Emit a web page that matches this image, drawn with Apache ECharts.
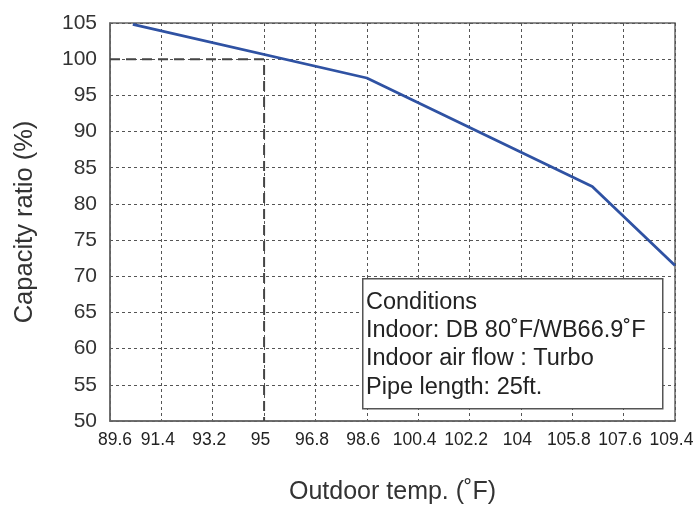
<!DOCTYPE html>
<html><head><meta charset="utf-8">
<script src="https://cdn.jsdelivr.net/npm/echarts@6/dist/echarts.min.js"></script>
<style>html,body{margin:0;padding:0;background:#fff}#c{width:694px;height:505px}</style>
</head><body><div id="c"></div>
<script>
// Outdoor temperatures (°F) and capacity ratio (%)
var tempF = [90.4, 98.6, 106.5, 109.4];
var capacity = [104.8, 97.4, 82.4, 71.5];
// Reference (rated) point guide: 95°F -> 100%
var refTempF = [89.6, 95, 95];
var refCap = [100, 100, 50];
// X tick labels (°F), which are whole °C steps 32..43
var xTickLabels = ['89.6','91.4','93.2','95','96.8','98.6','100.4','102.2','104','105.8','107.6','109.4'];
var yTicks = [50,55,60,65,70,75,80,85,90,95,100,105];
var conditions = ['Conditions','Indoor: DB 80\u02DAF/WB66.9\u02DAF','Indoor air flow : Turbo','Pipe length: 25ft.'];

function toC(f){ return (f - 32) / 1.8; }
var lineData = tempF.map(function(t,i){ return [toC(t), capacity[i]]; });
var refData = refTempF.map(function(t,i){ return [toC(t), refCap[i]]; });

var font = 'Liberation Sans, Arial, sans-serif';
var chart = echarts.init(document.getElementById('c'), null, {renderer:'canvas'});
chart.setOption({
  animation:false,
  grid:{left:110, right:19, top:23, bottom:84, show:true, borderColor:'#666', borderWidth:1.5,
        backgroundColor:'transparent', containLabel:false, outerBoundsMode:'none'},
  xAxis:{
    type:'value', min:32, max:43, interval:1,
    name:'Outdoor temp. (\u02DAF)', nameLocation:'middle', nameGap:59,
    nameTextStyle:{fontFamily:font, fontSize:25, color:'#333'},
    axisLine:{show:true, lineStyle:{color:'#666', width:1.5}},
    axisTick:{show:false},
    axisLabel:{fontFamily:font, fontSize:17.5, color:'#222', margin:10, padding:[0,7,0,0],
      formatter:function(v){
        var i = Math.round(v-32);
        return i === 0 ? '{f|' + xTickLabels[i] + '}' : xTickLabels[i];
      },
      rich:{f:{fontFamily:font, fontSize:17.5, color:'#222', padding:[0,0,0,17]}}
    },
    splitLine:{show:true, lineStyle:{color:'#555', width:1, type:[3,3]}}
  },
  yAxis:{
    type:'value', min:yTicks[0], max:yTicks[yTicks.length-1], interval:5,
    name:'Capacity ratio (%)', nameLocation:'middle', nameGap:72, nameRotate:90,
    nameTextStyle:{fontFamily:font, fontSize:25.5, color:'#333'},
    axisLine:{show:true, lineStyle:{color:'#666', width:1.5}},
    axisTick:{show:false},
    axisLabel:{fontFamily:font, fontSize:21, color:'#333', margin:13},
    splitLine:{show:true, lineStyle:{color:'#555', width:1, type:[3,3]}}
  },
  series:[
    {type:'line', data:refData, symbol:'none', silent:true, z:3,
     lineStyle:{color:'#444', width:2, type:[10,6]}},
    {type:'line', data:lineData, symbol:'none', z:4,
     lineStyle:{color:'#2f52a3', width:2.8}}
  ],
  graphic:[
    {type:'rect', left:362, top:278, z:10,
     shape:{width:300, height:130},
     style:{fill:'#fff', stroke:'#555', lineWidth:1.5}},
    {type:'text', left:366, top:288, z:11,
     style:{text:conditions.join('\n'), font:'23.5px '+font, fill:'#222', lineHeight:28.3}}
  ]
});
</script>
</body></html>
